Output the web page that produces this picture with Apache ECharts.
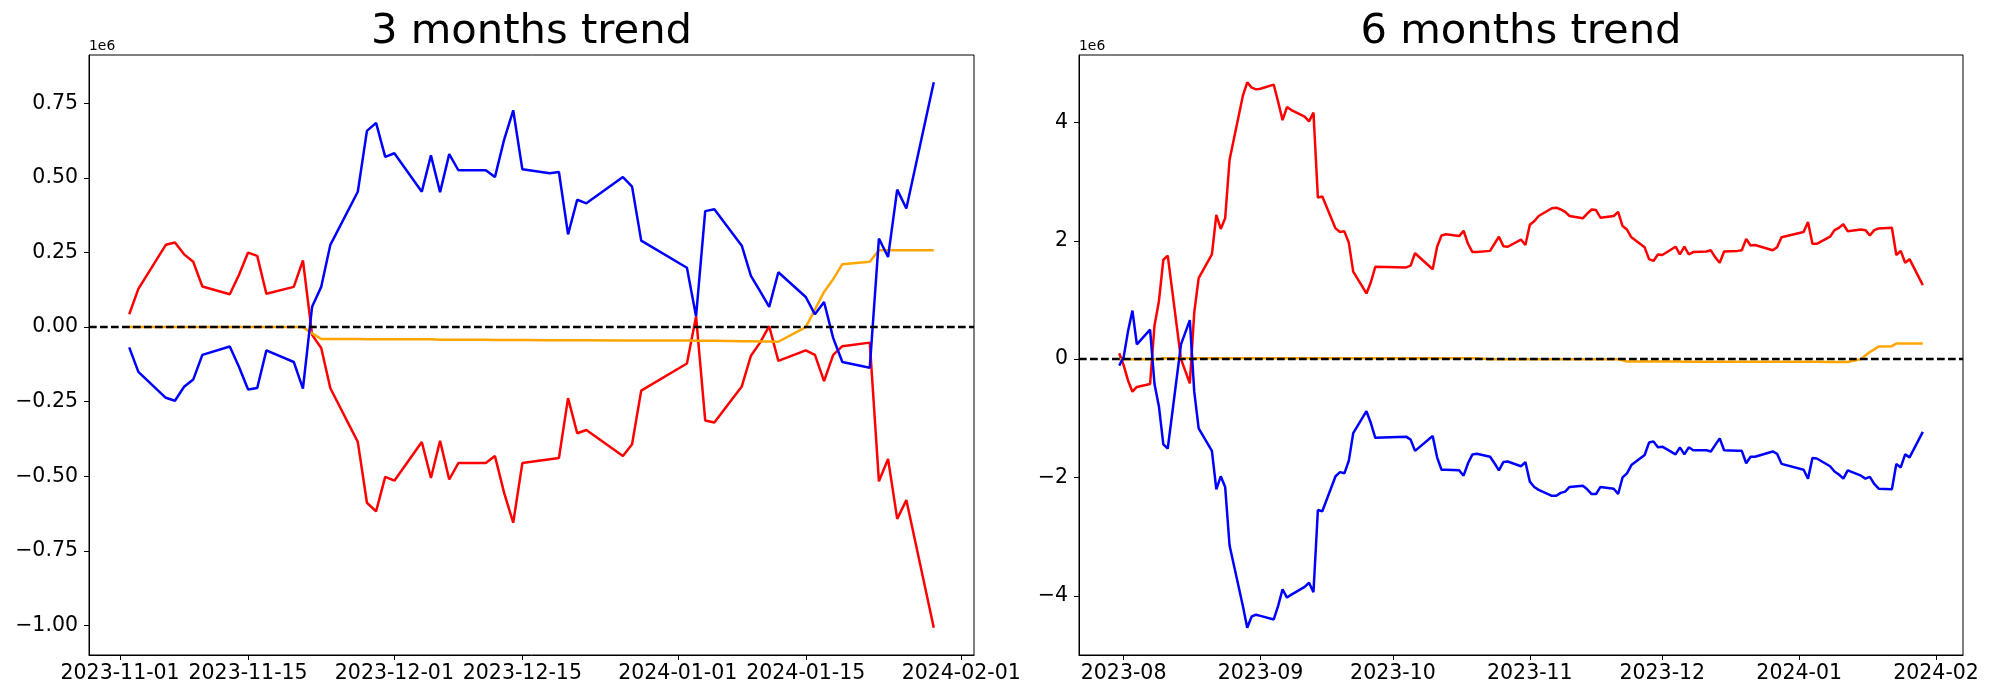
<!DOCTYPE html>
<html><head><meta charset="utf-8">
<script src="https://cdn.jsdelivr.net/npm/echarts@6/dist/echarts.min.js"></script>
<style>html,body{margin:0;padding:0;background:#fff}#c{width:2000px;height:700px}</style>
</head><body><div id="c"></div>
<script>
// ---------- 3 months trend (values in 1e6) ----------
const dates3 = [
 '2023-11-02','2023-11-03','2023-11-06','2023-11-07','2023-11-08','2023-11-09','2023-11-10',
 '2023-11-13','2023-11-14','2023-11-15','2023-11-16','2023-11-17','2023-11-20','2023-11-21',
 '2023-11-22','2023-11-23','2023-11-24','2023-11-27','2023-11-28','2023-11-29','2023-11-30',
 '2023-12-01','2023-12-04','2023-12-05','2023-12-06','2023-12-07','2023-12-08','2023-12-11',
 '2023-12-12','2023-12-13','2023-12-14','2023-12-15','2023-12-18','2023-12-19','2023-12-20',
 '2023-12-21','2023-12-22','2023-12-26','2023-12-27','2023-12-28',
 '2024-01-02','2024-01-03','2024-01-04','2024-01-05','2024-01-08','2024-01-09','2024-01-10',
 '2024-01-11','2024-01-12','2024-01-15','2024-01-16','2024-01-17','2024-01-18','2024-01-19',
 '2024-01-22','2024-01-23','2024-01-24','2024-01-25','2024-01-26','2024-01-29'];
const red3 = [
 0.043,0.128,0.276,0.284,0.244,0.219,0.136,
 0.110,0.175,0.250,0.239,0.112,0.135,0.224,
 -0.026,-0.070,-0.205,-0.385,-0.589,-0.618,-0.502,
 -0.515,-0.385,-0.506,-0.381,-0.511,-0.456,-0.456,
 -0.432,-0.555,-0.656,-0.456,-0.443,-0.439,-0.238,
 -0.356,-0.345,-0.432,-0.393,-0.213,
 -0.122,0.036,-0.313,-0.320,-0.199,-0.096,-0.052,
 0.003,-0.113,-0.078,-0.093,-0.181,-0.093,-0.064,
 -0.052,-0.517,-0.442,-0.643,-0.580,-1.008];
const blue3 = [
 -0.068,-0.150,-0.237,-0.247,-0.200,-0.176,-0.093,
 -0.065,-0.133,-0.209,-0.204,-0.078,-0.117,-0.206,
 0.068,0.135,0.276,0.454,0.658,0.685,0.571,
 0.583,0.454,0.576,0.452,0.580,0.526,0.526,
 0.503,0.628,0.727,0.529,0.516,0.520,0.311,
 0.427,0.415,0.503,0.471,0.290,
 0.199,0.036,0.389,0.395,0.273,0.172,0.121,
 0.068,0.184,0.101,0.043,0.084,-0.037,-0.117,
 -0.136,0.297,0.235,0.461,0.398,0.821];
const orange3 = [
 0,0,0,0,0,0,0,
 0,0,0,0,0,0,0,
 -0.021,-0.040,-0.040,-0.040,-0.041,-0.041,-0.041,
 -0.041,-0.041,-0.041,-0.042,-0.042,-0.042,-0.042,
 -0.043,-0.043,-0.043,-0.043,-0.044,-0.044,-0.044,
 -0.044,-0.044,-0.045,-0.045,-0.045,
 -0.045,-0.046,-0.046,-0.046,-0.047,-0.047,-0.048,
 -0.048,-0.049,0.000,0.059,0.118,0.161,0.211,
 0.219,0.258,0.258,0.258,0.258,0.258];

// ---------- 6 months trend (values in 1e6) ----------
const dates6 = [
 '2023-07-31','2023-08-01','2023-08-02','2023-08-03','2023-08-04','2023-08-07','2023-08-08',
 '2023-08-09','2023-08-10','2023-08-11','2023-08-14','2023-08-16','2023-08-17','2023-08-18',
 '2023-08-21','2023-08-22','2023-08-23','2023-08-24','2023-08-25','2023-08-28','2023-08-29',
 '2023-08-30','2023-08-31','2023-09-01','2023-09-04','2023-09-05','2023-09-06','2023-09-07',
 '2023-09-08','2023-09-11','2023-09-12','2023-09-13','2023-09-14','2023-09-15','2023-09-18',
 '2023-09-19','2023-09-20','2023-09-21','2023-09-22','2023-09-25','2023-09-26','2023-09-27',
 '2023-10-04','2023-10-05','2023-10-06','2023-10-10','2023-10-11','2023-10-12','2023-10-13',
 '2023-10-16','2023-10-17','2023-10-18','2023-10-19','2023-10-20','2023-10-23','2023-10-24',
 '2023-10-25','2023-10-26','2023-10-27','2023-10-30','2023-10-31','2023-11-01','2023-11-02',
 '2023-11-03','2023-11-06','2023-11-07','2023-11-08','2023-11-09','2023-11-10','2023-11-13',
 '2023-11-14','2023-11-15','2023-11-16','2023-11-17','2023-11-20','2023-11-21','2023-11-22',
 '2023-11-23','2023-11-24','2023-11-27','2023-11-28','2023-11-29','2023-11-30','2023-12-01',
 '2023-12-04','2023-12-05','2023-12-06','2023-12-07','2023-12-08','2023-12-11','2023-12-12',
 '2023-12-13','2023-12-14','2023-12-15','2023-12-18','2023-12-19','2023-12-20','2023-12-21',
 '2023-12-22','2023-12-26','2023-12-27','2023-12-28','2024-01-02','2024-01-03','2024-01-04',
 '2024-01-05','2024-01-08','2024-01-09','2024-01-10','2024-01-11','2024-01-12','2024-01-15',
 '2024-01-16','2024-01-17','2024-01-18','2024-01-19','2024-01-22','2024-01-23','2024-01-24',
 '2024-01-25','2024-01-26','2024-01-29'];
const red6 = [
 0.10,-0.10,-0.36,-0.55,-0.47,-0.42,0.57,
 0.98,1.68,1.75,0.00,-0.41,0.79,1.37,
 1.77,2.44,2.20,2.38,3.37,4.45,4.68,
 4.59,4.56,4.57,4.64,4.35,4.04,4.26,
 4.21,4.10,4.02,4.17,2.73,2.75,2.21,
 2.15,2.16,1.97,1.48,1.11,1.30,1.56,
 1.55,1.58,1.79,1.52,1.90,2.09,2.11,
 2.08,2.17,1.95,1.81,1.81,1.83,1.95,
 2.07,1.91,1.90,2.02,1.93,2.27,2.33,
 2.42,2.55,2.56,2.53,2.49,2.42,2.38,
 2.46,2.53,2.52,2.39,2.42,2.49,2.25,
 2.19,2.06,1.89,1.69,1.66,1.77,1.76,
 1.90,1.77,1.90,1.77,1.81,1.82,1.84,
 1.72,1.63,1.82,1.83,1.84,2.03,1.92,
 1.93,1.84,1.89,2.06,2.15,2.32,1.95,
 1.95,2.07,2.18,2.22,2.28,2.16,2.19,
 2.18,2.09,2.18,2.21,2.22,1.76,1.83,
 1.63,1.69,1.25];
const blue6 = [
 -0.11,0.03,0.47,0.82,0.25,0.50,-0.42,
 -0.80,-1.44,-1.51,0.25,0.66,-0.55,-1.17,
 -1.55,-2.20,-1.98,-2.16,-3.15,-4.17,-4.54,
 -4.35,-4.32,-4.34,-4.40,-4.17,-3.89,-4.03,
 -3.98,-3.85,-3.78,-3.94,-2.55,-2.57,-1.98,
 -1.91,-1.93,-1.72,-1.25,-0.88,-1.08,-1.33,
 -1.31,-1.36,-1.55,-1.30,-1.66,-1.87,-1.87,
 -1.88,-1.97,-1.76,-1.61,-1.60,-1.65,-1.76,
 -1.88,-1.74,-1.73,-1.81,-1.74,-2.07,-2.16,
 -2.21,-2.31,-2.31,-2.26,-2.24,-2.16,-2.14,
 -2.20,-2.28,-2.28,-2.16,-2.19,-2.28,-2.00,
 -1.93,-1.79,-1.62,-1.41,-1.39,-1.49,-1.48,
 -1.61,-1.49,-1.61,-1.49,-1.54,-1.54,-1.56,
 -1.45,-1.34,-1.54,-1.55,-1.55,-1.76,-1.65,
 -1.65,-1.56,-1.60,-1.77,-1.87,-2.02,-1.67,
 -1.68,-1.81,-1.90,-1.95,-2.02,-1.88,-1.97,
 -2.02,-1.99,-2.11,-2.19,-2.20,-1.77,-1.83,
 -1.61,-1.66,-1.23];
const orange6 = [
 0,0,0,0,0,0,0,
 0,0.015,0.015,0.015,0.015,0.015,0.015,
 0.015,0.015,0.015,0.015,0.015,0.015,0.015,
 0.015,0.015,0.015,0.015,0.015,0.015,0.015,
 0.015,0.015,0.015,0.015,0.015,0.015,0.015,
 0.015,0.015,0.015,0.015,0.015,0.015,0.015,
 0.015,0.015,0.015,0.015,0.015,0.015,0.015,
 0.015,0.015,0.015,0.015,0.015,0,0,
 0,0,0,0,0,0,0,
 0,0,0,0,0,0,0,
 0,0,0,0,0,0,-0.020,
 -0.040,-0.040,-0.040,-0.041,-0.041,-0.041,-0.041,
 -0.041,-0.041,-0.042,-0.042,-0.042,-0.042,-0.043,
 -0.043,-0.043,-0.043,-0.044,-0.044,-0.044,-0.044,
 -0.044,-0.045,-0.045,-0.045,-0.045,-0.046,-0.046,
 -0.046,-0.047,-0.047,-0.048,-0.048,-0.049,0.000,
 0.060,0.120,0.165,0.215,0.220,0.265,0.265,
 0.265,0.265,0.265];

// ---------- tick labels ----------
const xTicks3 = ['2023-11-01','2023-11-15','2023-12-01','2023-12-15','2024-01-01','2024-01-15','2024-02-01'];
const yTicks3 = [-1.00,-0.75,-0.50,-0.25,0.00,0.25,0.50,0.75];
const xTicks6 = ['2023-08-01','2023-09-01','2023-10-01','2023-11-01','2023-12-01','2024-01-01','2024-02-01'];
const yTicks6 = [-4,-2,0,2,4];
const titles = ['3 months trend','6 months trend'];
const offsetText = '1e6';

// ---------- helpers ----------
function ts(s){const p=s.split('-').map(Number);return new Date(p[0],p[1]-1,p[2]).getTime();}
function pad(n){return n<10?'0'+n:''+n;}
function minusSign(s){return s.replace('-','\u2212');}
function xRange(d){const a=ts(d[0]),b=ts(d[d.length-1]),m=(b-a)*0.05;return [a-m,b+m];}
function yRange(arrs){let lo=Infinity,hi=-Infinity;arrs.forEach(a=>a.forEach(v=>{if(v<lo)lo=v;if(v>hi)hi=v;}));const m=(hi-lo)*0.05;return [lo-m,hi+m];}
function pairs(d,v){return d.map((s,i)=>[ts(s),v[i]]);}

const FONT = 'DejaVu Sans';
const TICK_FS = 20.5;
const LW = 2.5;
const xr3 = xRange(dates3), xr6 = xRange(dates6);
const yr3 = yRange([red3,blue3,orange3]), yr6 = yRange([red6,blue6,orange6]);

const G = [
  {left:89, top:55, width:885, height:600},
  {left:1079, top:55, width:884, height:600}
];

function xAxisDef(idx, range, ticks, fmt){
  const vals = ticks.map(ts);
  return {
    type:'value', gridIndex:idx, min:range[0], max:range[1], scale:true,
    axisLine:{show:true,onZero:false,lineStyle:{color:'#000',width:1}},
    axisTick:{show:true,inside:false,length:5,lineStyle:{color:'#000',width:1},customValues:vals},
    axisLabel:{show:true,margin:8,color:'#000',fontFamily:FONT,fontSize:TICK_FS,customValues:vals,
      showMinLabel:true, showMaxLabel:true,
      formatter:function(v){const d=new Date(Number(v));return fmt(d);}},
    splitLine:{show:false}, minorTick:{show:false}
  };
}
function yAxisDef(idx, range, ticks, dec){
  return {
    type:'value', gridIndex:idx, min:range[0], max:range[1],
    axisLine:{show:true,onZero:false,lineStyle:{color:'#000',width:1}},
    axisTick:{show:true,inside:false,length:5,lineStyle:{color:'#000',width:1},customValues:ticks},
    axisLabel:{show:true,margin:11,color:'#000',fontFamily:FONT,fontSize:TICK_FS,customValues:ticks,
      formatter:function(v){return minusSign(Number(v).toFixed(dec));}},
    splitLine:{show:false}
  };
}
function lineSeries(idx, d, v, color, z){
  return {type:'line', xAxisIndex:idx, yAxisIndex:idx, data:pairs(d,v), showSymbol:false, symbol:'none',
    lineStyle:{color:color,width:LW}, itemStyle:{color:color}, z:z, silent:true, animation:false};
}
function zeroLine(idx){
  return {type:'line', xAxisIndex:idx, yAxisIndex:idx, data:[], z:10, silent:true, animation:false,
    markLine:{silent:true, symbol:['none','none'], label:{show:false}, animation:false,
      lineStyle:{color:'#000', type:[7.7,3.3], width:2.3}, data:[{yAxis:0}]}};
}

const option = {
  backgroundColor:'#fff',
  animation:false,
  grid: G.map(g=>Object.assign({show:true,borderColor:'#000',borderWidth:1,backgroundColor:'transparent',containLabel:false},g)),
  xAxis: [
    xAxisDef(0, xr3, xTicks3, d=>d.getFullYear()+'-'+pad(d.getMonth()+1)+'-'+pad(d.getDate())),
    xAxisDef(1, xr6, xTicks6, d=>d.getFullYear()+'-'+pad(d.getMonth()+1))
  ],
  yAxis: [ yAxisDef(0, yr3, yTicks3, 2), yAxisDef(1, yr6, yTicks6, 0) ],
  series: [
    lineSeries(0, dates3, red3, '#ff0000', 2),
    lineSeries(0, dates3, orange3, '#ffa500', 3),
    lineSeries(0, dates3, blue3, '#0000ff', 4),
    zeroLine(0),
    lineSeries(1, dates6, red6, '#ff0000', 2),
    lineSeries(1, dates6, orange6, '#ffa500', 3),
    lineSeries(1, dates6, blue6, '#0000ff', 4),
    zeroLine(1)
  ],
  graphic: [
    {type:'text', x:G[0].left+G[0].width/2, y:32, style:{text:titles[0], font:'41.7px "DejaVu Sans"', fill:'#000', textAlign:'center', textVerticalAlign:'middle'}},
    {type:'text', x:G[1].left+G[1].width/2, y:32, style:{text:titles[1], font:'41.7px "DejaVu Sans"', fill:'#000', textAlign:'center', textVerticalAlign:'middle'}},
    {type:'text', x:G[0].left, y:46, style:{text:offsetText, font:'13.9px "DejaVu Sans"', fill:'#000', textAlign:'left', textVerticalAlign:'middle'}},
    {type:'text', x:G[1].left, y:46, style:{text:offsetText, font:'13.9px "DejaVu Sans"', fill:'#000', textAlign:'left', textVerticalAlign:'middle'}}
  ]
};
const chart = echarts.init(document.getElementById('c'), null, {renderer:'canvas', width:2000, height:700});
chart.setOption(option);
</script>
</body></html>
